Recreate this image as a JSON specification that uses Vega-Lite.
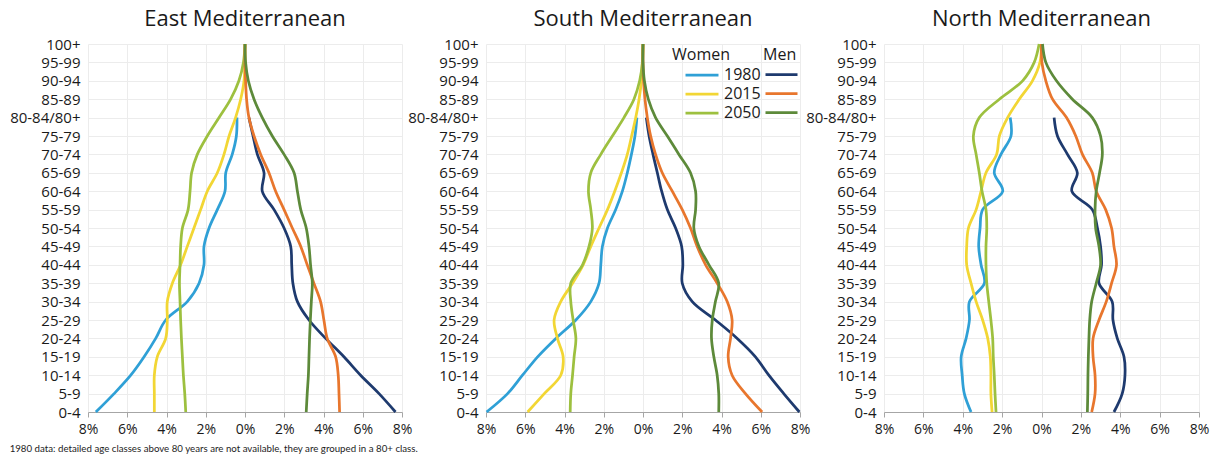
{
  "$schema": "https://vega.github.io/schema/vega-lite/v6.json",
  "padding": {"left": 9, "top": 8, "right": 5, "bottom": 5},
  "background": "white",
  "datasets": {
    "pop": [
      {"region":"East","series":"W1980","age":0,"pct":-7.6},{"region":"East","series":"W1980","age":1,"pct":-6.67},{"region":"East","series":"W1980","age":2,"pct":-5.82},{"region":"East","series":"W1980","age":3,"pct":-5.14},{"region":"East","series":"W1980","age":4,"pct":-4.55},{"region":"East","series":"W1980","age":5,"pct":-4.04},{"region":"East","series":"W1980","age":6,"pct":-2.94},{"region":"East","series":"W1980","age":7,"pct":-2.34},{"region":"East","series":"W1980","age":8,"pct":-2.09},{"region":"East","series":"W1980","age":9,"pct":-2.09},{"region":"East","series":"W1980","age":10,"pct":-1.83},{"region":"East","series":"W1980","age":11,"pct":-1.41},{"region":"East","series":"W1980","age":12,"pct":-1.02},{"region":"East","series":"W1980","age":13,"pct":-0.98},{"region":"East","series":"W1980","age":14,"pct":-0.65},{"region":"East","series":"W1980","age":15,"pct":-0.44},{"region":"East","series":"W1980","age":16,"pct":-0.41},
      {"region":"East","series":"M1980","age":0,"pct":7.67},{"region":"East","series":"M1980","age":1,"pct":6.83},{"region":"East","series":"M1980","age":2,"pct":5.89},{"region":"East","series":"M1980","age":3,"pct":5.04},{"region":"East","series":"M1980","age":4,"pct":4.11},{"region":"East","series":"M1980","age":5,"pct":3.26},{"region":"East","series":"M1980","age":6,"pct":2.67},{"region":"East","series":"M1980","age":7,"pct":2.44},{"region":"East","series":"M1980","age":8,"pct":2.38},{"region":"East","series":"M1980","age":9,"pct":2.33},{"region":"East","series":"M1980","age":10,"pct":1.99},{"region":"East","series":"M1980","age":11,"pct":1.48},{"region":"East","series":"M1980","age":12,"pct":0.88},{"region":"East","series":"M1980","age":13,"pct":0.97},{"region":"East","series":"M1980","age":14,"pct":0.63},{"region":"East","series":"M1980","age":15,"pct":0.41},{"region":"East","series":"M1980","age":16,"pct":0.2},
      {"region":"East","series":"W2015","age":0,"pct":-4.62},{"region":"East","series":"W2015","age":1,"pct":-4.62},{"region":"East","series":"W2015","age":2,"pct":-4.62},{"region":"East","series":"W2015","age":3,"pct":-4.47},{"region":"East","series":"W2015","age":4,"pct":-4.04},{"region":"East","series":"W2015","age":5,"pct":-3.96},{"region":"East","series":"W2015","age":6,"pct":-3.96},{"region":"East","series":"W2015","age":7,"pct":-3.7},{"region":"East","series":"W2015","age":8,"pct":-3.28},{"region":"East","series":"W2015","age":9,"pct":-2.94},{"region":"East","series":"W2015","age":10,"pct":-2.6},{"region":"East","series":"W2015","age":11,"pct":-2.26},{"region":"East","series":"W2015","age":12,"pct":-1.92},{"region":"East","series":"W2015","age":13,"pct":-1.41},{"region":"East","series":"W2015","age":14,"pct":-1.07},{"region":"East","series":"W2015","age":15,"pct":-0.81},{"region":"East","series":"W2015","age":16,"pct":-0.48},{"region":"East","series":"W2015","age":17,"pct":-0.22},{"region":"East","series":"W2015","age":18,"pct":-0.05},{"region":"East","series":"W2015","age":19,"pct":-0.01},{"region":"East","series":"W2015","age":20,"pct":0},
      {"region":"East","series":"M2015","age":0,"pct":4.82},{"region":"East","series":"M2015","age":1,"pct":4.79},{"region":"East","series":"M2015","age":2,"pct":4.75},{"region":"East","series":"M2015","age":3,"pct":4.62},{"region":"East","series":"M2015","age":4,"pct":4.19},{"region":"East","series":"M2015","age":5,"pct":4.02},{"region":"East","series":"M2015","age":6,"pct":3.85},{"region":"East","series":"M2015","age":7,"pct":3.51},{"region":"East","series":"M2015","age":8,"pct":3.17},{"region":"East","series":"M2015","age":9,"pct":2.84},{"region":"East","series":"M2015","age":10,"pct":2.41},{"region":"East","series":"M2015","age":11,"pct":1.99},{"region":"East","series":"M2015","age":12,"pct":1.56},{"region":"East","series":"M2015","age":13,"pct":1.22},{"region":"East","series":"M2015","age":14,"pct":0.8},{"region":"East","series":"M2015","age":15,"pct":0.46},{"region":"East","series":"M2015","age":16,"pct":0.2},{"region":"East","series":"M2015","age":17,"pct":0.08},{"region":"East","series":"M2015","age":18,"pct":0.03},{"region":"East","series":"M2015","age":19,"pct":0},{"region":"East","series":"M2015","age":20,"pct":0},
      {"region":"East","series":"W2050","age":0,"pct":-3.02},{"region":"East","series":"W2050","age":1,"pct":-3.07},{"region":"East","series":"W2050","age":2,"pct":-3.14},{"region":"East","series":"W2050","age":3,"pct":-3.19},{"region":"East","series":"W2050","age":4,"pct":-3.24},{"region":"East","series":"W2050","age":5,"pct":-3.28},{"region":"East","series":"W2050","age":6,"pct":-3.31},{"region":"East","series":"W2050","age":7,"pct":-3.34},{"region":"East","series":"W2050","age":8,"pct":-3.31},{"region":"East","series":"W2050","age":9,"pct":-3.28},{"region":"East","series":"W2050","age":10,"pct":-3.19},{"region":"East","series":"W2050","age":11,"pct":-2.9},{"region":"East","series":"W2050","age":12,"pct":-2.8},{"region":"East","series":"W2050","age":13,"pct":-2.72},{"region":"East","series":"W2050","age":14,"pct":-2.43},{"region":"East","series":"W2050","age":15,"pct":-1.92},{"region":"East","series":"W2050","age":16,"pct":-1.32},{"region":"East","series":"W2050","age":17,"pct":-0.73},{"region":"East","series":"W2050","age":18,"pct":-0.31},{"region":"East","series":"W2050","age":19,"pct":-0.08},{"region":"East","series":"W2050","age":20,"pct":0},
      {"region":"East","series":"M2050","age":0,"pct":3.12},{"region":"East","series":"M2050","age":1,"pct":3.17},{"region":"East","series":"M2050","age":2,"pct":3.23},{"region":"East","series":"M2050","age":3,"pct":3.26},{"region":"East","series":"M2050","age":4,"pct":3.29},{"region":"East","series":"M2050","age":5,"pct":3.33},{"region":"East","series":"M2050","age":6,"pct":3.38},{"region":"East","series":"M2050","age":7,"pct":3.43},{"region":"East","series":"M2050","age":8,"pct":3.34},{"region":"East","series":"M2050","age":9,"pct":3.26},{"region":"East","series":"M2050","age":10,"pct":3.12},{"region":"East","series":"M2050","age":11,"pct":2.84},{"region":"East","series":"M2050","age":12,"pct":2.67},{"region":"East","series":"M2050","age":13,"pct":2.5},{"region":"East","series":"M2050","age":14,"pct":1.99},{"region":"East","series":"M2050","age":15,"pct":1.39},{"region":"East","series":"M2050","age":16,"pct":0.88},{"region":"East","series":"M2050","age":17,"pct":0.46},{"region":"East","series":"M2050","age":18,"pct":0.17},{"region":"East","series":"M2050","age":19,"pct":0.03},{"region":"East","series":"M2050","age":20,"pct":0},

      {"region":"South","series":"W1980","age":0,"pct":-7.97},{"region":"South","series":"W1980","age":1,"pct":-6.9},{"region":"South","series":"W1980","age":2,"pct":-6.14},{"region":"South","series":"W1980","age":3,"pct":-5.37},{"region":"South","series":"W1980","age":4,"pct":-4.44},{"region":"South","series":"W1980","age":5,"pct":-3.42},{"region":"South","series":"W1980","age":6,"pct":-2.66},{"region":"South","series":"W1980","age":7,"pct":-2.24},{"region":"South","series":"W1980","age":8,"pct":-2.15},{"region":"South","series":"W1980","age":9,"pct":-2.07},{"region":"South","series":"W1980","age":10,"pct":-1.81},{"region":"South","series":"W1980","age":11,"pct":-1.39},{"region":"South","series":"W1980","age":12,"pct":-1.05},{"region":"South","series":"W1980","age":13,"pct":-0.8},{"region":"South","series":"W1980","age":14,"pct":-0.59},{"region":"South","series":"W1980","age":15,"pct":-0.41},{"region":"South","series":"W1980","age":16,"pct":-0.31},
      {"region":"South","series":"M1980","age":0,"pct":7.97},{"region":"South","series":"M1980","age":1,"pct":7.17},{"region":"South","series":"M1980","age":2,"pct":6.41},{"region":"South","series":"M1980","age":3,"pct":5.73},{"region":"South","series":"M1980","age":4,"pct":4.8},{"region":"South","series":"M1980","age":5,"pct":3.69},{"region":"South","series":"M1980","age":6,"pct":2.51},{"region":"South","series":"M1980","age":7,"pct":2.0},{"region":"South","series":"M1980","age":8,"pct":2.03},{"region":"South","series":"M1980","age":9,"pct":1.97},{"region":"South","series":"M1980","age":10,"pct":1.66},{"region":"South","series":"M1980","age":11,"pct":1.24},{"region":"South","series":"M1980","age":12,"pct":0.95},{"region":"South","series":"M1980","age":13,"pct":0.73},{"region":"South","series":"M1980","age":14,"pct":0.51},{"region":"South","series":"M1980","age":15,"pct":0.31},{"region":"South","series":"M1980","age":16,"pct":0.17},
      {"region":"South","series":"W2015","age":0,"pct":-5.88},{"region":"South","series":"W2015","age":1,"pct":-5.03},{"region":"South","series":"W2015","age":2,"pct":-4.19},{"region":"South","series":"W2015","age":3,"pct":-4.07},{"region":"South","series":"W2015","age":4,"pct":-4.36},{"region":"South","series":"W2015","age":5,"pct":-4.53},{"region":"South","series":"W2015","age":6,"pct":-4.19},{"region":"South","series":"W2015","age":7,"pct":-3.59},{"region":"South","series":"W2015","age":8,"pct":-3.05},{"region":"South","series":"W2015","age":9,"pct":-2.66},{"region":"South","series":"W2015","age":10,"pct":-2.24},{"region":"South","series":"W2015","age":11,"pct":-1.81},{"region":"South","series":"W2015","age":12,"pct":-1.44},{"region":"South","series":"W2015","age":13,"pct":-1.1},{"region":"South","series":"W2015","age":14,"pct":-0.8},{"region":"South","series":"W2015","age":15,"pct":-0.58},{"region":"South","series":"W2015","age":16,"pct":-0.37},{"region":"South","series":"W2015","age":17,"pct":-0.2},{"region":"South","series":"W2015","age":18,"pct":-0.08},{"region":"South","series":"W2015","age":19,"pct":-0.03},{"region":"South","series":"W2015","age":20,"pct":0},
      {"region":"South","series":"M2015","age":0,"pct":6.07},{"region":"South","series":"M2015","age":1,"pct":5.22},{"region":"South","series":"M2015","age":2,"pct":4.54},{"region":"South","series":"M2015","age":3,"pct":4.34},{"region":"South","series":"M2015","age":4,"pct":4.46},{"region":"South","series":"M2015","age":5,"pct":4.54},{"region":"South","series":"M2015","age":6,"pct":4.29},{"region":"South","series":"M2015","age":7,"pct":3.78},{"region":"South","series":"M2015","age":8,"pct":3.19},{"region":"South","series":"M2015","age":9,"pct":2.76},{"region":"South","series":"M2015","age":10,"pct":2.42},{"region":"South","series":"M2015","age":11,"pct":2.0},{"region":"South","series":"M2015","age":12,"pct":1.49},{"region":"South","series":"M2015","age":13,"pct":0.98},{"region":"South","series":"M2015","age":14,"pct":0.64},{"region":"South","series":"M2015","age":15,"pct":0.39},{"region":"South","series":"M2015","age":16,"pct":0.22},{"region":"South","series":"M2015","age":17,"pct":0.1},{"region":"South","series":"M2015","age":18,"pct":0.03},{"region":"South","series":"M2015","age":19,"pct":0},{"region":"South","series":"M2015","age":20,"pct":0},
      {"region":"South","series":"W2050","age":0,"pct":-3.71},{"region":"South","series":"W2050","age":1,"pct":-3.68},{"region":"South","series":"W2050","age":2,"pct":-3.59},{"region":"South","series":"W2050","age":3,"pct":-3.51},{"region":"South","series":"W2050","age":4,"pct":-3.42},{"region":"South","series":"W2050","age":5,"pct":-3.56},{"region":"South","series":"W2050","age":6,"pct":-3.68},{"region":"South","series":"W2050","age":7,"pct":-3.68},{"region":"South","series":"W2050","age":8,"pct":-3.08},{"region":"South","series":"W2050","age":9,"pct":-2.75},{"region":"South","series":"W2050","age":10,"pct":-2.58},{"region":"South","series":"W2050","age":11,"pct":-2.66},{"region":"South","series":"W2050","age":12,"pct":-2.78},{"region":"South","series":"W2050","age":13,"pct":-2.66},{"region":"South","series":"W2050","age":14,"pct":-2.15},{"region":"South","series":"W2050","age":15,"pct":-1.56},{"region":"South","series":"W2050","age":16,"pct":-0.97},{"region":"South","series":"W2050","age":17,"pct":-0.46},{"region":"South","series":"W2050","age":18,"pct":-0.17},{"region":"South","series":"W2050","age":19,"pct":-0.03},{"region":"South","series":"W2050","age":20,"pct":0},
      {"region":"South","series":"M2050","age":0,"pct":3.86},{"region":"South","series":"M2050","age":1,"pct":3.86},{"region":"South","series":"M2050","age":2,"pct":3.78},{"region":"South","series":"M2050","age":3,"pct":3.61},{"region":"South","series":"M2050","age":4,"pct":3.49},{"region":"South","series":"M2050","age":5,"pct":3.53},{"region":"South","series":"M2050","age":6,"pct":3.69},{"region":"South","series":"M2050","age":7,"pct":3.86},{"region":"South","series":"M2050","age":8,"pct":3.36},{"region":"South","series":"M2050","age":9,"pct":2.85},{"region":"South","series":"M2050","age":10,"pct":2.59},{"region":"South","series":"M2050","age":11,"pct":2.68},{"region":"South","series":"M2050","age":12,"pct":2.68},{"region":"South","series":"M2050","age":13,"pct":2.42},{"region":"South","series":"M2050","age":14,"pct":1.83},{"region":"South","series":"M2050","age":15,"pct":1.24},{"region":"South","series":"M2050","age":16,"pct":0.64},{"region":"South","series":"M2050","age":17,"pct":0.27},{"region":"South","series":"M2050","age":18,"pct":0.07},{"region":"South","series":"M2050","age":19,"pct":0},{"region":"South","series":"M2050","age":20,"pct":0},

      {"region":"North","series":"W1980","age":0,"pct":-3.58},{"region":"North","series":"W1980","age":1,"pct":-3.92},{"region":"North","series":"W1980","age":2,"pct":-4.03},{"region":"North","series":"W1980","age":3,"pct":-4.08},{"region":"North","series":"W1980","age":4,"pct":-3.83},{"region":"North","series":"W1980","age":5,"pct":-3.66},{"region":"North","series":"W1980","age":6,"pct":-3.66},{"region":"North","series":"W1980","age":7,"pct":-2.9},{"region":"North","series":"W1980","age":8,"pct":-3.07},{"region":"North","series":"W1980","age":9,"pct":-3.19},{"region":"North","series":"W1980","age":10,"pct":-3.12},{"region":"North","series":"W1980","age":11,"pct":-2.99},{"region":"North","series":"W1980","age":12,"pct":-1.97},{"region":"North","series":"W1980","age":13,"pct":-2.4},{"region":"North","series":"W1980","age":14,"pct":-2.06},{"region":"North","series":"W1980","age":15,"pct":-1.55},{"region":"North","series":"W1980","age":16,"pct":-1.59},
      {"region":"North","series":"M1980","age":0,"pct":3.68},{"region":"North","series":"M1980","age":1,"pct":4.1},{"region":"North","series":"M1980","age":2,"pct":4.24},{"region":"North","series":"M1980","age":3,"pct":4.19},{"region":"North","series":"M1980","age":4,"pct":3.85},{"region":"North","series":"M1980","age":5,"pct":3.63},{"region":"North","series":"M1980","age":6,"pct":3.59},{"region":"North","series":"M1980","age":7,"pct":2.92},{"region":"North","series":"M1980","age":8,"pct":3.05},{"region":"North","series":"M1980","age":9,"pct":3.0},{"region":"North","series":"M1980","age":10,"pct":2.84},{"region":"North","series":"M1980","age":11,"pct":2.58},{"region":"North","series":"M1980","age":12,"pct":1.54},{"region":"North","series":"M1980","age":13,"pct":1.82},{"region":"North","series":"M1980","age":14,"pct":1.32},{"region":"North","series":"M1980","age":15,"pct":0.81},{"region":"North","series":"M1980","age":16,"pct":0.64},
      {"region":"North","series":"W2015","age":0,"pct":-2.51},{"region":"North","series":"W2015","age":1,"pct":-2.57},{"region":"North","series":"W2015","age":2,"pct":-2.57},{"region":"North","series":"W2015","age":3,"pct":-2.6},{"region":"North","series":"W2015","age":4,"pct":-2.73},{"region":"North","series":"W2015","age":5,"pct":-2.99},{"region":"North","series":"W2015","age":6,"pct":-3.32},{"region":"North","series":"W2015","age":7,"pct":-3.58},{"region":"North","series":"W2015","age":8,"pct":-3.8},{"region":"North","series":"W2015","age":9,"pct":-3.8},{"region":"North","series":"W2015","age":10,"pct":-3.71},{"region":"North","series":"W2015","age":11,"pct":-3.32},{"region":"North","series":"W2015","age":12,"pct":-3.07},{"region":"North","series":"W2015","age":13,"pct":-2.82},{"region":"North","series":"W2015","age":14,"pct":-2.28},{"region":"North","series":"W2015","age":15,"pct":-2.14},{"region":"North","series":"W2015","age":16,"pct":-1.72},{"region":"North","series":"W2015","age":17,"pct":-1.13},{"region":"North","series":"W2015","age":18,"pct":-0.46},{"region":"North","series":"W2015","age":19,"pct":-0.08},{"region":"North","series":"W2015","age":20,"pct":0},
      {"region":"North","series":"M2015","age":0,"pct":2.55},{"region":"North","series":"M2015","age":1,"pct":2.72},{"region":"North","series":"M2015","age":2,"pct":2.72},{"region":"North","series":"M2015","age":3,"pct":2.62},{"region":"North","series":"M2015","age":4,"pct":2.62},{"region":"North","series":"M2015","age":5,"pct":2.92},{"region":"North","series":"M2015","age":6,"pct":3.29},{"region":"North","series":"M2015","age":7,"pct":3.56},{"region":"North","series":"M2015","age":8,"pct":3.81},{"region":"North","series":"M2015","age":9,"pct":3.68},{"region":"North","series":"M2015","age":10,"pct":3.56},{"region":"North","series":"M2015","age":11,"pct":3.26},{"region":"North","series":"M2015","age":12,"pct":2.78},{"region":"North","series":"M2015","age":13,"pct":2.58},{"region":"North","series":"M2015","age":14,"pct":2.08},{"region":"North","series":"M2015","age":15,"pct":1.74},{"region":"North","series":"M2015","age":16,"pct":1.27},{"region":"North","series":"M2015","age":17,"pct":0.56},{"region":"North","series":"M2015","age":18,"pct":0.22},{"region":"North","series":"M2015","age":19,"pct":0.02},{"region":"North","series":"M2015","age":20,"pct":0},
      {"region":"North","series":"W2050","age":0,"pct":-2.31},{"region":"North","series":"W2050","age":1,"pct":-2.36},{"region":"North","series":"W2050","age":2,"pct":-2.4},{"region":"North","series":"W2050","age":3,"pct":-2.45},{"region":"North","series":"W2050","age":4,"pct":-2.48},{"region":"North","series":"W2050","age":5,"pct":-2.57},{"region":"North","series":"W2050","age":6,"pct":-2.68},{"region":"North","series":"W2050","age":7,"pct":-2.78},{"region":"North","series":"W2050","age":8,"pct":-2.82},{"region":"North","series":"W2050","age":9,"pct":-2.82},{"region":"North","series":"W2050","age":10,"pct":-2.78},{"region":"North","series":"W2050","age":11,"pct":-2.82},{"region":"North","series":"W2050","age":12,"pct":-3.02},{"region":"North","series":"W2050","age":13,"pct":-3.16},{"region":"North","series":"W2050","age":14,"pct":-3.32},{"region":"North","series":"W2050","age":15,"pct":-3.46},{"region":"North","series":"W2050","age":16,"pct":-3.16},{"region":"North","series":"W2050","age":17,"pct":-2.14},{"region":"North","series":"W2050","age":18,"pct":-0.96},{"region":"North","series":"W2050","age":19,"pct":-0.37},{"region":"North","series":"W2050","age":20,"pct":-0.12},
      {"region":"North","series":"M2050","age":0,"pct":2.33},{"region":"North","series":"M2050","age":1,"pct":2.35},{"region":"North","series":"M2050","age":2,"pct":2.36},{"region":"North","series":"M2050","age":3,"pct":2.38},{"region":"North","series":"M2050","age":4,"pct":2.41},{"region":"North","series":"M2050","age":5,"pct":2.45},{"region":"North","series":"M2050","age":6,"pct":2.55},{"region":"North","series":"M2050","age":7,"pct":2.78},{"region":"North","series":"M2050","age":8,"pct":3.0},{"region":"North","series":"M2050","age":9,"pct":2.92},{"region":"North","series":"M2050","age":10,"pct":2.75},{"region":"North","series":"M2050","age":11,"pct":2.72},{"region":"North","series":"M2050","age":12,"pct":2.78},{"region":"North","series":"M2050","age":13,"pct":2.95},{"region":"North","series":"M2050","age":14,"pct":3.09},{"region":"North","series":"M2050","age":15,"pct":3.0},{"region":"North","series":"M2050","age":16,"pct":2.58},{"region":"North","series":"M2050","age":17,"pct":1.57},{"region":"North","series":"M2050","age":18,"pct":0.76},{"region":"North","series":"M2050","age":19,"pct":0.22},{"region":"North","series":"M2050","age":20,"pct":0.05}
    ]
  },
  "title": {
    "text": "1980 data: detailed age classes above 80 years are not available, they are grouped in a 80+ class.",
    "orient": "bottom",
    "anchor": "start",
    "frame": "bounds",
    "font": "Lato",
    "fontSize": 9.7,
    "fontWeight": "normal",
    "color": "#222222",
    "offset": 8
  },
  "bounds": "flush",
  "spacing": 84,
  "resolve": {"scale": {"color": "independent", "stroke": "independent"}, "legend": {"color": "independent", "stroke": "independent"}},
  "hconcat": [
    {
      "title": "East Mediterranean",
      "width": 314,
      "height": 368,
      "data": {"name": "pop"},
      "transform": [{"filter": "datum.region === 'East'"}],
      "encoding": {
        "x": {"field": "pct", "type": "quantitative", "scale": {"domain": [-8, 8], "nice": false}, "axis": {"values": [-8, -6, -4, -2, 0, 2, 4, 6, 8]}},
        "y": {"field": "age", "type": "quantitative", "scale": {"domain": [0, 20], "nice": false}, "axis": {"values": [0, 1, 2, 3, 4, 5, 6, 7, 8, 9, 10, 11, 12, 13, 14, 15, 16, 17, 18, 19, 20]}},
        "order": {"field": "age", "type": "quantitative"}
      },
      "layer": [
        {
          "transform": [{"filter": {"field": "series", "oneOf": ["W1980", "W2015", "W2050"]}}],
          "mark": {"type": "line", "interpolate": "catmull-rom", "strokeWidth": 2.75},
          "encoding": {
            "color": {"field": "series", "type": "nominal", "scale": {"domain": ["W1980", "W2015", "W2050"], "range": ["#2FA0D6", "#F2D634", "#9DC03F"]}, "legend": null}
          }
        },
        {
          "transform": [{"filter": {"field": "series", "oneOf": ["M1980", "M2015", "M2050"]}}],
          "mark": {"type": "line", "interpolate": "catmull-rom", "strokeWidth": 2.75},
          "encoding": {
            "stroke": {"field": "series", "type": "nominal", "scale": {"domain": ["M1980", "M2015", "M2050"], "range": ["#1E3A6E", "#E8762D", "#5D8A3A"]}, "legend": null}
          }
        }
      ]
    },
    {
      "title": "South Mediterranean",
      "width": 314,
      "height": 368,
      "data": {"name": "pop"},
      "transform": [{"filter": "datum.region === 'South'"}],
      "encoding": {
        "x": {"field": "pct", "type": "quantitative", "scale": {"domain": [-8, 8], "nice": false}, "axis": {"values": [-8, -6, -4, -2, 0, 2, 4, 6, 8]}},
        "y": {"field": "age", "type": "quantitative", "scale": {"domain": [0, 20], "nice": false}, "axis": {"values": [0, 1, 2, 3, 4, 5, 6, 7, 8, 9, 10, 11, 12, 13, 14, 15, 16, 17, 18, 19, 20]}},
        "order": {"field": "age", "type": "quantitative"}
      },
      "layer": [
        {
          "transform": [{"filter": {"field": "series", "oneOf": ["W1980", "W2015", "W2050"]}}],
          "mark": {"type": "line", "interpolate": "catmull-rom", "strokeWidth": 2.75},
          "encoding": {
            "color": {"field": "series", "type": "nominal", "scale": {"domain": ["W1980", "W2015", "W2050"], "range": ["#2FA0D6", "#F2D634", "#9DC03F"]},
              "legend": {"title": "Women", "orient": "none", "legendX": 186, "legendY": 3, "symbolType": "M-2,0H2", "symbolSize": 272, "symbolStrokeWidth": 2.75, "symbolOffset": 20, "labelExpr": "slice(datum.label, 1)", "labelFontSize": 16, "titleFontSize": 16, "titleFontWeight": "normal", "titlePadding": 2, "labelOffset": 12, "rowPadding": 1, "padding": 0}}
          }
        },
        {
          "transform": [{"filter": {"field": "series", "oneOf": ["M1980", "M2015", "M2050"]}}],
          "mark": {"type": "line", "interpolate": "catmull-rom", "strokeWidth": 2.75},
          "encoding": {
            "stroke": {"field": "series", "type": "nominal", "scale": {"domain": ["M1980", "M2015", "M2050"], "range": ["#1E3A6E", "#E8762D", "#5D8A3A"]},
              "legend": {"title": "Men", "orient": "none", "legendX": 277, "legendY": 3, "symbolType": "M-2,0H2", "symbolSize": 256, "symbolStrokeWidth": 2.75, "symbolOffset": 9, "labelExpr": "''", "labelFontSize": 16, "titleFontSize": 16, "titleFontWeight": "normal", "titlePadding": 2, "rowPadding": 1, "padding": 0}}
          }
        }
      ]
    },
    {
      "title": "North Mediterranean",
      "width": 315,
      "height": 368,
      "data": {"name": "pop"},
      "transform": [{"filter": "datum.region === 'North'"}],
      "encoding": {
        "x": {"field": "pct", "type": "quantitative", "scale": {"domain": [-8, 8], "nice": false}, "axis": {"values": [-8, -6, -4, -2, 0, 2, 4, 6, 8]}},
        "y": {"field": "age", "type": "quantitative", "scale": {"domain": [0, 20], "nice": false}, "axis": {"values": [0, 1, 2, 3, 4, 5, 6, 7, 8, 9, 10, 11, 12, 13, 14, 15, 16, 17, 18, 19, 20]}},
        "order": {"field": "age", "type": "quantitative"}
      },
      "layer": [
        {
          "transform": [{"filter": {"field": "series", "oneOf": ["W1980", "W2015", "W2050"]}}],
          "mark": {"type": "line", "interpolate": "catmull-rom", "strokeWidth": 2.75},
          "encoding": {
            "color": {"field": "series", "type": "nominal", "scale": {"domain": ["W1980", "W2015", "W2050"], "range": ["#2FA0D6", "#F2D634", "#9DC03F"]}, "legend": null}
          }
        },
        {
          "transform": [{"filter": {"field": "series", "oneOf": ["M1980", "M2015", "M2050"]}}],
          "mark": {"type": "line", "interpolate": "catmull-rom", "strokeWidth": 2.75},
          "encoding": {
            "stroke": {"field": "series", "type": "nominal", "scale": {"domain": ["M1980", "M2015", "M2050"], "range": ["#1E3A6E", "#E8762D", "#5D8A3A"]}, "legend": null}
          }
        }
      ]
    }
  ],
  "config": {
    "font": "Open Sans",
    "view": {"stroke": null},
    "title": {"fontSize": 22, "fontWeight": "normal", "color": "#1a1a1a", "offset": 6, "anchor": "middle"},
    "axisX": {
      "title": null,
      "labelExpr": "abs(datum.value) + '%'",
      "labelFontSize": 14,
      "labelColor": "#1a1a1a",
      "labelFlush": false,
      "labelOverlap": false,
      "labelPadding": 5,
      "domainColor": "#a6a6a6",
      "tickColor": "#a6a6a6",
      "tickSize": 5,
      "gridColor": "#ececec"
    },
    "axisY": {
      "title": null,
      "labelExpr": "['0-4','5-9','10-14','15-19','20-24','25-29','30-34','35-39','40-44','45-49','50-54','55-59','60-64','65-69','70-74','75-79','80-84/80+','85-89','90-94','95-99','100+'][datum.value]",
      "labelFontSize": 15,
      "labelColor": "#1a1a1a",
      "labelFlush": false,
      "labelOverlap": false,
      "labelPadding": 8,
      "domain": false,
      "ticks": false,
      "gridColor": "#ececec"
    },
    "legend": {"labelColor": "#1a1a1a", "titleColor": "#1a1a1a"}
  }
}
